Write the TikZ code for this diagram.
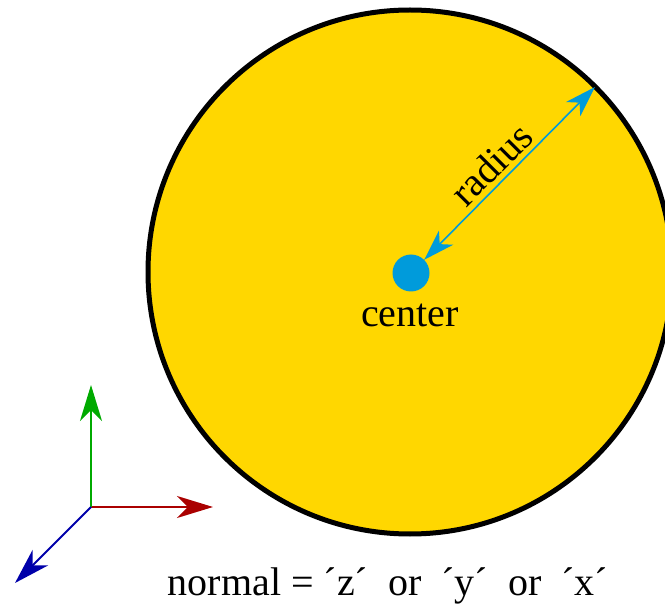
\documentclass[tikz,border=0pt]{standalone}
\usepackage{fontspec}
\setmainfont{Liberation Serif}
\usetikzlibrary{arrows.meta}
\definecolor{discgold}{RGB}{255,215,0}
\definecolor{skyb}{RGB}{0,155,219}
\definecolor{axred}{RGB}{170,0,0}
\definecolor{axgreen}{RGB}{0,170,0}
\definecolor{axblue}{RGB}{0,0,170}
\tikzset{
  axarrow/.style={line width=2pt, -{Stealth[length=36pt, width=22pt, inset=11pt]}},
  radarrow/.style={skyb, line width=1.6pt, {Stealth[length=31pt, width=20pt, inset=9pt]}-{Stealth[length=31pt, width=20pt, inset=9pt]}},
  lbl/.style={font=\fontsize{40}{48}\selectfont, inner sep=0pt}
}
\begin{document}
\begin{tikzpicture}[x=1pt,y=-1pt]
\useasboundingbox (0,0) rectangle (665,604);
\begin{scope}
\clip (0,0) rectangle (665,604);
\node[circle, fill=discgold, draw=black, line width=5pt, minimum size=524pt, inner sep=0pt] (disc) at (410,272) {};
\end{scope}
\node[circle, fill=skyb, minimum size=37pt, inner sep=0pt] (c) at (411,273) {};
\coordinate (rim) at (595,87);
\draw[radarrow] (c.north east) -- (rim);
\node[lbl, rotate=45] (rad) at (491,164) {radius};
\node[lbl, anchor=base] (ctext) at (410,327) {center};
\coordinate (o) at (91,507);
\coordinate (ax) at (213,507);
\coordinate (ay) at (91,385);
\coordinate (az) at (15,583);
\draw[axarrow, axred] (o) -- (ax);
\draw[axarrow, axgreen] (o) -- (ay);
\draw[axarrow, axblue] (o) -- (az);
\node[lbl, anchor=base] (norm) at (388,595) {normal = ´z´\hspace{10pt} or\hspace{10pt} ´y´\hspace{10pt} or\hspace{10pt} ´x´};
\end{tikzpicture}
\end{document}
